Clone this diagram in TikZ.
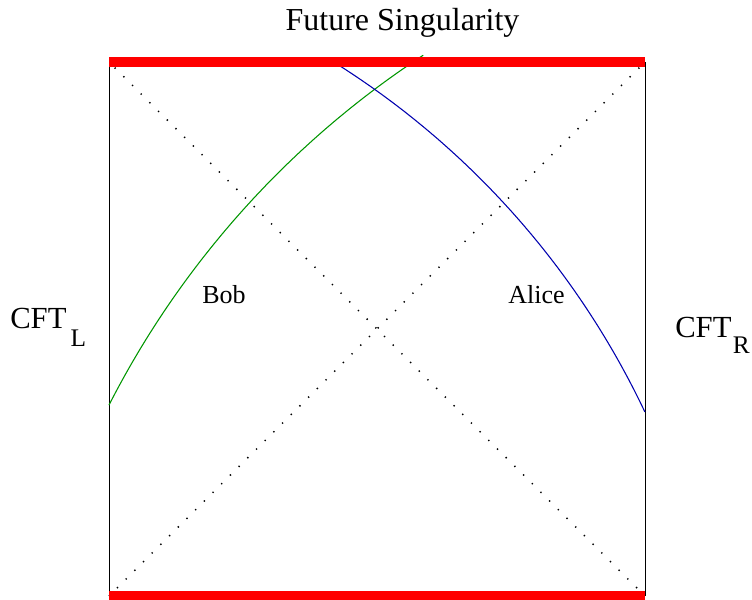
\documentclass[tikz,border=0pt]{standalone}
\usepackage{fontspec}
\setmainfont{Liberation Serif}
\definecolor{bobgreen}{RGB}{0,150,0}
\definecolor{aliceblue}{RGB}{0,0,175}
\begin{document}
\begin{tikzpicture}[x=0.75pt,y=-0.75pt,
  frame/.style={black,line width=0.75pt},
  sing/.style={red,line width=6.8pt},
  lightray/.style={black,line width=1.1pt,dash pattern=on 1pt off 8.2pt,dash phase=-6pt},
  world/.style={line width=0.8pt},
  lbl/.style={anchor=base,inner sep=0pt}]
\useasboundingbox (0,0) rectangle (752,599);
\coordinate (TL) at (109,62);
\coordinate (TR) at (645,62);
\coordinate (BL) at (109,596);
\coordinate (BR) at (645,596);
% frame
\draw[frame] (TL) -- (BL);
\draw[frame] (TR) -- (BR);
% light rays
\draw[lightray] (TL) -- (BR);
\draw[lightray] (TR) -- (BL);
% worldlines
\draw[world,bobgreen] plot[domain=207.06:236.8,samples=80] ({925+916.4*cos(\x)},{822+916.4*sin(\x)});
\draw[world,aliceblue] plot[domain=-58.2:-25.34,samples=80] ({-109+834.2*cos(\x)},{769+834.2*sin(\x)});
% singularities
\draw[sing] (TL) -- (TR);
\draw[sing] (BL) -- (BR);
% labels
\node[lbl,font=\fontsize{24}{28}\selectfont] (fut) at (402.5,31) {Future Singularity};
\node[lbl,anchor=base west,font=\fontsize{23}{28}\selectfont] (cftl) at (10,328) {CFT\hspace{3pt}\raisebox{-13.5pt}{\fontsize{19}{22}\selectfont L}};
\node[lbl,anchor=base west,font=\fontsize{23}{28}\selectfont] (cftr) at (675,337) {CFT\hspace{1pt}\raisebox{-12pt}{\fontsize{19}{22}\selectfont R}};
\node[lbl,font=\fontsize{19.5}{24}\selectfont] (bob) at (224,303) {Bob};
\node[lbl,font=\fontsize{19.5}{24}\selectfont] (alice) at (536.5,303) {Alice};
\end{tikzpicture}
\end{document}
